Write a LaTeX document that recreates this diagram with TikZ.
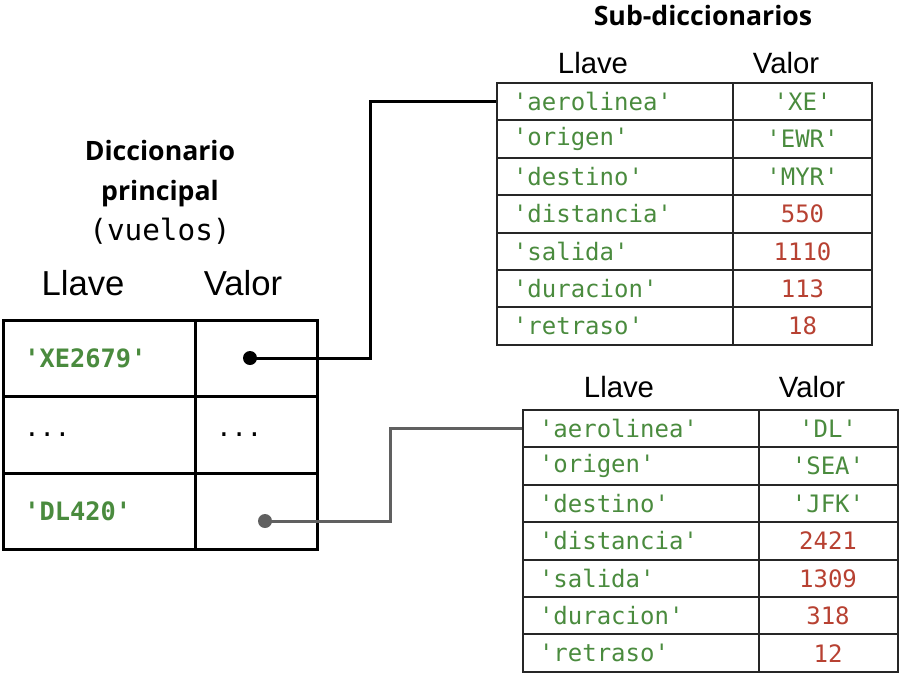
\documentclass[tikz,border=0pt]{standalone}
\usepackage{fontspec}
\setmainfont{Liberation Sans}
\newfontfamily\titlefont{Open Sans}
\newfontfamily\codefont{DejaVu Sans Mono}
\usepackage{xcolor}
\definecolor{keygreen}{RGB}{74,139,62}
\definecolor{numred}{RGB}{183,65,50}
\definecolor{linkgray}{RGB}{96,96,96}
\newcommand{\qt}{\textquotesingle}

\begin{document}
\begin{tikzpicture}[
  x=0.75pt, y=-0.75pt,
  title/.style={font=\titlefont\bfseries\fontsize{20}{30}\selectfont, align=center, anchor=base},
  hdr/.style={font=\fontsize{22}{26}\selectfont, anchor=base},
  bighdr/.style={font=\fontsize{26}{30}\selectfont, anchor=base},
  mcell/.style={draw, line width=2.25pt, minimum height=57.5pt, inner xsep=16pt, align=left, font=\codefont\fontsize{19}{22}\selectfont},
  mkey/.style={mcell, text width=112pt, text=keygreen, font=\codefont\bfseries\fontsize{19}{22}\selectfont},
  mval/.style={mcell, text width=59.5pt},
  scell/.style={draw=black!85, line width=1.5pt, minimum height=28.05pt, font=\codefont\fontsize{18}{20}\selectfont},
  skey/.style={scell, inner xsep=12pt, text width=153pt, align=left, text=keygreen},
  sval/.style={scell, inner xsep=4pt, text width=96.25pt, align=center},
  dot/.style={circle, inner sep=0pt, minimum size=10.5pt},
  link/.style={line width=2.25pt},
]
  \useasboundingbox (0,0) rectangle (900,676);

  % Main dictionary
  \node[title] (mtitle) at (160,240) {Diccionario\\principal\\{\mdseries\codefont\fontsize{22}{30}\selectfont(vuelos)}};
  \node[bighdr] (mllave) at (83,295) {Llave};
  \node[bighdr] (mvalor) at (243,295) {Valor};

  \node[mkey] (mk1) at (99,358.5) {\qt XE2679\qt};
  \node[mval] (mv1) at (256,358.5) {};
  \node[mcell, text width=112pt] (mk2) at (99,435) {...};
  \node[mval] (mv2) at (256,435) {...};
  \node[mkey] (mk3) at (99,511.5) {\qt DL420\qt};
  \node[mval] (mv3) at (256,511.5) {};

  \node[dot, fill=black] (p1) at (250,358) {};
  \node[dot, fill=linkgray] (p2) at (265,521) {};

  % Sub-dictionaries
  \node[title] (stitle) at (703,25) {Sub-diccionarios};
  \node[hdr] (s1llave) at (593,73) {Llave};
  \node[hdr] (s1valor) at (786,73) {Valor};
  \foreach \k/\v/\c [count=\i] in {aerolinea/\qt XE\qt/keygreen, origen/\qt EWR\qt/keygreen,
      destino/\qt MYR\qt/keygreen, distancia/550/numred, salida/1110/numred,
      duracion/113/numred, retraso/18/numred} {
    \node[skey] (s1k\i) at (615,{83+37.4*(\i-0.5)}) {\qt\k\qt};
    \node[sval, text=\c] (s1v\i) at (802.5,{83+37.4*(\i-0.5)}) {\v};
  }

  \node[hdr] (s2llave) at (619,397) {Llave};
  \node[hdr] (s2valor) at (812,397) {Valor};
  \foreach \k/\v/\c [count=\i] in {aerolinea/\qt DL\qt/keygreen, origen/\qt SEA\qt/keygreen,
      destino/\qt JFK\qt/keygreen, distancia/2421/numred, salida/1309/numred,
      duracion/318/numred, retraso/12/numred} {
    \node[skey] (s2k\i) at (641,{410+37.4*(\i-0.5)}) {\qt\k\qt};
    \node[sval, text=\c] (s2v\i) at (828,{410+37.4*(\i-0.5)}) {\v};
  }

  % Links from values to sub-dictionaries
  \draw[link] (p1.center) -- ++(120,0) |- (s1k1.west);
  \draw[link, linkgray] (p2.center) -- ++(125,0) |- (s2k1.west);
\end{tikzpicture}
\end{document}
